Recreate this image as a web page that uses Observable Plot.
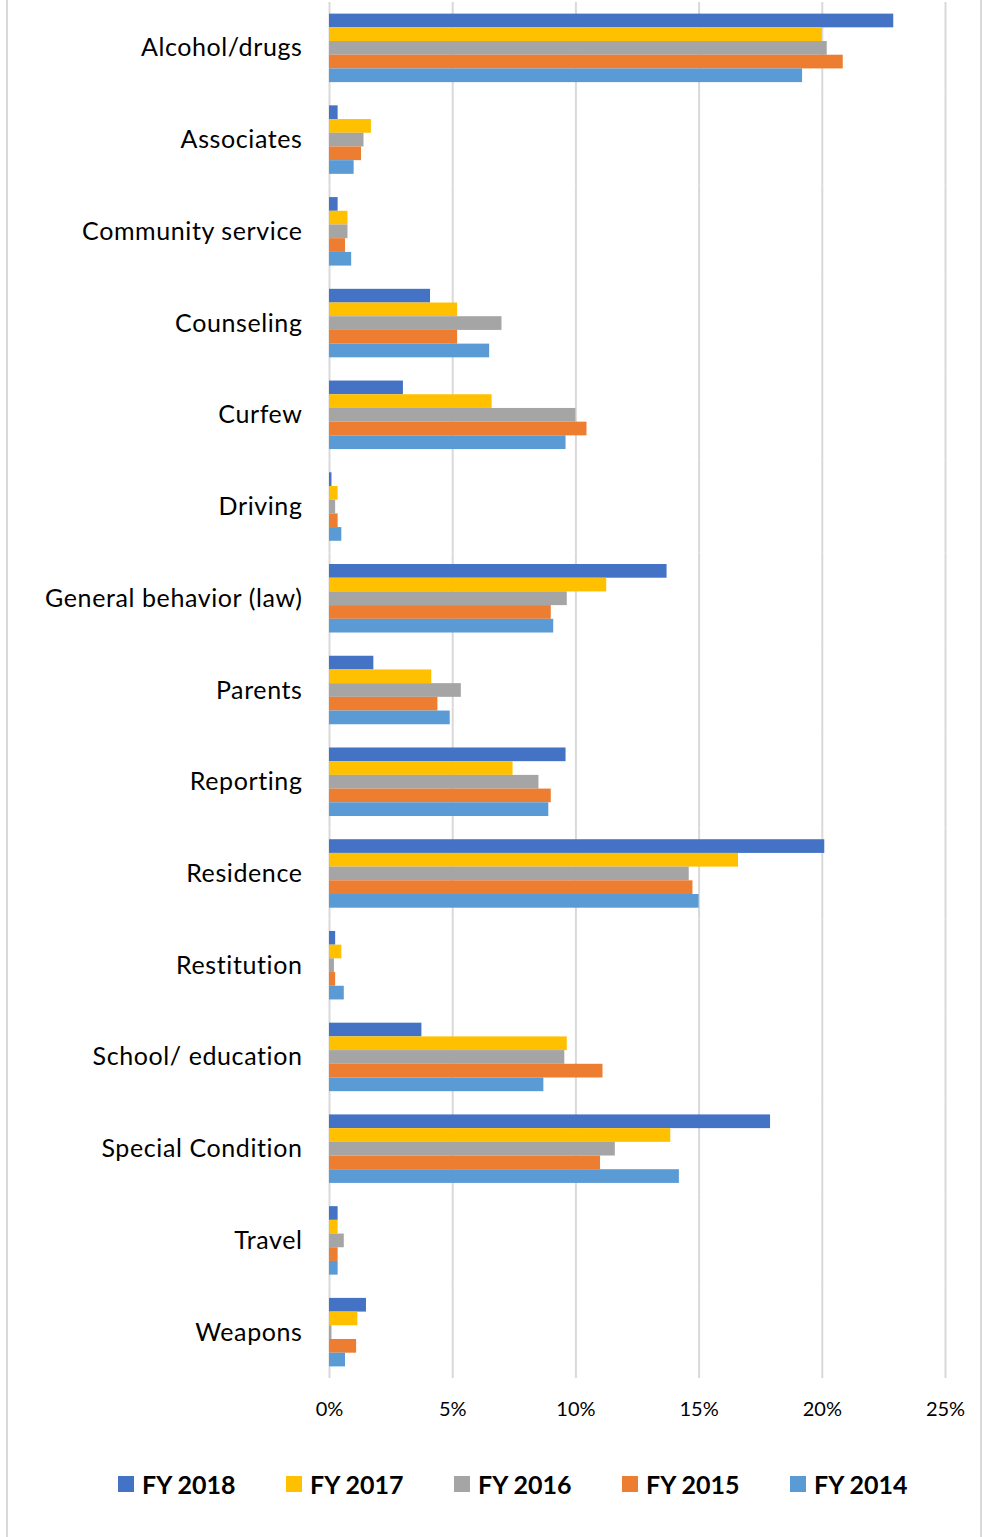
<!DOCTYPE html>
<html>
<head>
<meta charset="utf-8">
<script src="https://cdn.jsdelivr.net/npm/d3@7"></script>
<script src="https://cdn.jsdelivr.net/npm/@observablehq/plot@0.6"></script>
<style>
  body { margin: 0; background: #fff; }
  #chart { position: relative; width: 984px; height: 1537px; font-family: Lato, "Open Sans", sans-serif; color: #000; }
  #frame { position: absolute; left: 6px; top: 0; width: 976px; height: 1537px;
           border-left: 2px solid #d9d9d9; border-right: 2px solid #d9d9d9; box-sizing: border-box; pointer-events: none; }
  #plot { position: absolute; left: 0; top: 0; }
  #plot svg g[aria-label^="fy-axis"] text { font-size: 25px; letter-spacing: 0.6px; }
  #plot svg g[aria-label^="x-axis"] text { font-size: 20px; }
  #legend { position: absolute; left: 0; top: 1472px; width: 984px; height: 24px; }
  .item { position: absolute; top: 0; height: 24px; display: flex; align-items: center; }
  .sw { width: 16px; height: 16px; margin-right: 8px; }
  .lab { font-weight: 700; font-size: 25px; line-height: 24px; }
</style>
</head>
<body>
<div id="chart">
  <div id="plot"></div>
  <div id="legend"></div>
  <div id="frame"></div>
</div>
<script>
// Share of violations by category, percent, for each fiscal year
const categories = [
  "Alcohol/drugs", "Associates", "Community service", "Counseling", "Curfew",
  "Driving", "General behavior (law)", "Parents", "Reporting", "Residence",
  "Restitution", "School/ education", "Special Condition", "Travel", "Weapons"
];
const years = ["FY 2018", "FY 2017", "FY 2016", "FY 2015", "FY 2014"];
const colors = ["#4472C4", "#FFC000", "#A5A5A5", "#ED7D31", "#5B9BD5"];

const fy2018 = [22.9, 0.35, 0.35, 4.1, 3.0, 0.1, 13.7, 1.8, 9.6, 20.1, 0.25, 3.75, 17.9, 0.35, 1.5];
const fy2017 = [20.0, 1.7, 0.75, 5.2, 6.6, 0.35, 11.25, 4.15, 7.45, 16.6, 0.5, 9.65, 13.85, 0.35, 1.15];
const fy2016 = [20.2, 1.4, 0.75, 7.0, 10.0, 0.25, 9.65, 5.35, 8.5, 14.6, 0.2, 9.55, 11.6, 0.6, 0.1];
const fy2015 = [20.85, 1.3, 0.65, 5.2, 10.45, 0.35, 9.0, 4.4, 9.0, 14.75, 0.25, 11.1, 11.0, 0.35, 1.1];
const fy2014 = [19.2, 1.0, 0.9, 6.5, 9.6, 0.5, 9.1, 4.9, 8.9, 15.0, 0.6, 8.7, 14.2, 0.35, 0.65];

const xTicks = [0, 5, 10, 15, 20, 25];

const series = [fy2018, fy2017, fy2016, fy2015, fy2014];
const rows = [];
categories.forEach((c, i) => {
  years.forEach((y, j) => rows.push({ category: c, year: y, value: series[j][i] }));
});

const chart = Plot.plot({
  width: 984,
  height: 1430,
  marginLeft: 329,
  marginRight: 39,
  marginTop: 2,
  marginBottom: 52,
  style: { fontFamily: "Lato, 'Open Sans', sans-serif", color: "#000", background: "transparent" },
  x: { domain: [0, 25], ticks: xTicks, tickFormat: d => d + "%", tickSize: 0, tickPadding: 23, label: null },
  y: { domain: years, paddingInner: 0, paddingOuter: 0.848, round: false, axis: null },
  fy: { domain: categories, padding: 0, round: false, axis: "left", tickSize: 0, tickPadding: 27, label: null },
  color: { domain: years, range: colors },
  marks: [
    Plot.ruleX(xTicks, { stroke: "#d9d9d9", strokeWidth: 2 }),
    Plot.barX(rows, { x: "value", y: "year", fy: "category", fill: "year", inset: 0 })
  ]
});
document.getElementById("plot").appendChild(chart);

// Legend row under the plot
const legend = document.getElementById("legend");
years.forEach((y, j) => {
  const item = document.createElement("div");
  item.className = "item";
  item.style.left = (118 + 168 * j) + "px";
  const sw = document.createElement("div");
  sw.className = "sw";
  sw.style.background = colors[j];
  const lab = document.createElement("span");
  lab.className = "lab";
  lab.textContent = y;
  item.appendChild(sw);
  item.appendChild(lab);
  legend.appendChild(item);
});
</script>
</body>
</html>
